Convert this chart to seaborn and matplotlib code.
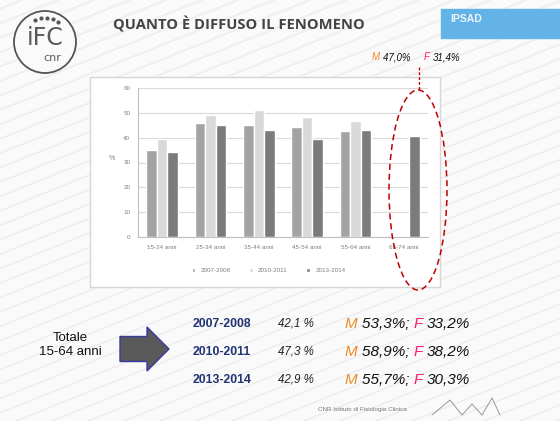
import numpy as np
import pandas as pd
import matplotlib
matplotlib.use("Agg")
import matplotlib.pyplot as plt
from matplotlib.patches import Ellipse, Rectangle, Circle, FancyArrow
import seaborn as sns

# dati
fasce = ["15-24 anni", "25-34 anni", "35-44 anni", "45-54 anni", "55-64 anni", "65-74 anni"]
anni = ["2007-2008", "2010-2011", "2013-2014"]
val_2007 = [35.2, 45.9, 45.2, 44.2, 42.8, np.nan]
val_2010 = [39.6, 49.3, 51.3, 48.2, 46.6, np.nan]
val_2013 = [34.2, 45.0, 43.0, 39.6, 43.1, 40.8]
colori = ["#a3a3a3", "#d9d9d9", "#7b7b7b"]

# totale 15-64 anni
tot_perc = ["42,1 %", "47,3 %", "42,9 %"]
tot_m = ["53,3%", "58,9%", "55,7%"]
tot_f = ["33,2%", "38,2%", "30,3%"]

df = pd.DataFrame({
    "fascia": fasce * 3,
    "periodo": [a for a in anni for _ in fasce],
    "valore": val_2007 + val_2010 + val_2013,
})

sns.set_theme(style="white")
plt.rcParams["font.family"] = ["Liberation Sans", "DejaVu Sans"]

fig = plt.figure(figsize=(5.6, 4.21), dpi=100)
fig.patch.set_facecolor("#fafafa")

# sfondo della slide (coordinate in pixel)
bg = fig.add_axes([0, 0, 1, 1], zorder=0)
bg.set_xlim(0, 560)
bg.set_ylim(421, 0)
bg.axis("off")
for x0 in range(-1100, 600, 36):
    bg.plot([x0, x0 + 1050], [421, 0], color="#eeeeee", lw=1.2, zorder=0)

# logo IFC
bg.add_patch(Circle((45, 42), 31, facecolor="#fafafa", ec="#555555", lw=1.3))
bg.text(45, 38, "iFC", ha="center", va="center", fontsize=17, color="#5a5a5a",
        family="DejaVu Sans")
bg.text(52, 58, "cnr", ha="center", va="center", fontsize=8, color="#5a5a5a",
        family="DejaVu Sans")
for ang in np.linspace(2.0, 1.0, 5):
    bg.plot(45 + 24 * np.cos(ang), 42 - 24 * np.sin(ang), "o", ms=2, color="#555555")

bg.text(113, 25, "QUANTO È DIFFUSO IL FENOMENO", fontsize=10.6, fontweight="bold",
        color="#444444", va="center", family="Open Sans")

# logo IPSAD
bg.add_patch(Rectangle((441, 9), 119, 29, color="#64b3e6"))
bg.text(450, 19, "IPSAD", fontsize=7.5, fontweight="bold", color="#eef6fc", va="center")

# box del grafico
bg.add_patch(Rectangle((90, 77), 350, 210, facecolor="white", edgecolor="#d6d6d6", lw=1))

# grafico
ax = fig.add_axes([138 / 560, 1 - 237 / 421, 290 / 560, 149 / 421], zorder=2)
sns.barplot(data=df, x="fascia", y="valore", hue="periodo", hue_order=anni,
            palette=colori, width=0.65, gap=0, ax=ax, saturation=1)
ax.set_facecolor("white")
ax.set_ylim(0, 60)
ax.set_yticks(range(0, 61, 10))
ax.yaxis.grid(True, color="#d9d9d9", lw=0.8)
ax.set_axisbelow(True)
for s in ["top", "right"]:
    ax.spines[s].set_visible(False)
for s in ["left", "bottom"]:
    ax.spines[s].set_color("#bfbfbf")
    ax.spines[s].set_linewidth(0.8)
ax.tick_params(axis="both", labelsize=4.5, colors="#7f7f7f", length=2, width=0.6)
ax.set_xlabel("")
ax.set_ylabel("%", fontsize=5, color="#7f7f7f", rotation=0, labelpad=8)
ax.legend(loc="upper center", bbox_to_anchor=(0.45, -0.17), ncol=3, frameon=False,
          fontsize=4.5, handlelength=0.6, handleheight=0.6, columnspacing=3,
          labelcolor="#7f7f7f")

# sovrapposizione: ellisse rossa e testi
ov = fig.add_axes([0, 0, 1, 1], zorder=3)
ov.set_xlim(0, 560)
ov.set_ylim(421, 0)
ov.axis("off")
ov.patch.set_alpha(0)
ov.add_patch(Ellipse((418, 190), 58, 200, fill=False, ec="#c00000", lw=1.1, ls=(0, (4, 2.5))))
ov.plot([419, 419], [67, 90], color="#c00000", lw=1, ls=(0, (2, 1.5)))


def riga_mf(x, y, m, f, size, sep):
    # scrive "M xx%; F yy%" concatenando i pezzi colorati
    pezzi = [("M ", "#f08a24"), (m + sep, "#111111"), ("F ", "#ff1a75"), (f, "#111111")]
    t = ov.text(x, y, pezzi[0][0], color=pezzi[0][1], fontsize=size, style="italic",
                va="center", ha="left")
    for testo, col in pezzi[1:]:
        t = ov.annotate(testo, xy=(1, 0.5), xycoords=t, va="center", ha="left",
                        color=col, fontsize=size, style="italic")


riga_mf(372, 57, "47,0%", "31,4%", 7, "     ")

# totale 15-64
ov.text(70, 345, "Totale\n15-64 anni", ha="center", va="center", fontsize=9.5,
        color="#111111", linespacing=1.2)
ov.add_patch(FancyArrow(120, 349, 27, 0, width=25, head_width=44, head_length=22,
                        length_includes_head=False, fc="#595959", ec="#3a3aa0", lw=1))
ys = [324, 352, 380]
for i in range(3):
    ov.text(222, ys[i], anni[i], ha="center", va="center", fontsize=8.8,
            fontweight="bold", color="#1f3470")
    ov.text(296, ys[i], tot_perc[i], ha="center", va="center", fontsize=8.3,
            style="italic", color="#222222")
    riga_mf(345, ys[i], tot_m[i], tot_f[i], 11, "; ")

ov.text(362, 410, "CNR Istituto di Fisiologia Clinica", ha="center", va="center",
        fontsize=4.5, color="#777777")
ov.plot([432, 450, 462, 472, 482, 492, 500], [415, 400, 415, 404, 415, 398, 415],
        color="#999999", lw=0.7)

fig.savefig("out.png", dpi=100, facecolor=fig.get_facecolor())
